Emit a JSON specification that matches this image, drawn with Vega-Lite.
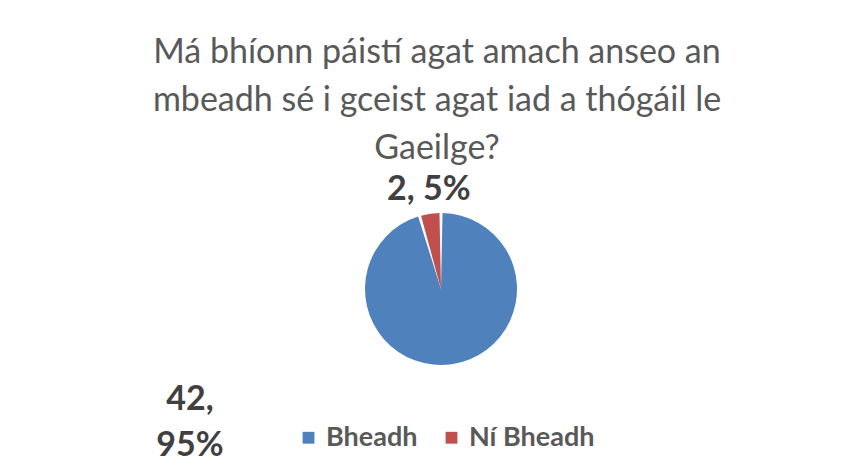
{
  "$schema": "https://vega.github.io/schema/vega-lite/v6.json",
  "autosize": {"type": "none"},
  "width": 846,
  "height": 228,
  "padding": {"left": 18, "top": 175, "right": 0, "bottom": 72},
  "background": "white",
  "config": {"view": {"stroke": null}},
  "title": {
    "text": ["Má bhíonn páistí agat amach anseo an", "mbeadh sé i gceist agat iad a thógáil le", "Gaeilge?"],
    "font": "Lato",
    "fontSize": 34,
    "fontWeight": "normal",
    "color": "#595959",
    "lineHeight": 48,
    "anchor": "middle",
    "dx": -4,
    "offset": -5
  },
  "data": {"values": [
    {"answer": "Bheadh", "count": 42},
    {"answer": "Ní Bheadh", "count": 2}
  ]},
  "transform": [
    {"joinaggregate": [{"op": "sum", "field": "count", "as": "total"}]},
    {"calculate": "datum.answer == 'Ní Bheadh' ? datum.count + ', ' + format(datum.count / datum.total, '.0%') : ''", "as": "labelSmall"},
    {"calculate": "datum.answer == 'Bheadh' ? datum.count + ',\\n' + format(datum.count / datum.total, '.0%') : ''", "as": "labelBig"}
  ],
  "encoding": {
    "theta": {"field": "count", "type": "quantitative", "stack": true},
    "order": {"field": "answer", "type": "nominal"}
  },
  "layer": [
    {
      "mark": {"type": "arc", "outerRadius": 76, "padAngle": 0.04},
      "encoding": {
        "color": {
          "field": "answer",
          "type": "nominal",
          "scale": {"domain": ["Bheadh", "Ní Bheadh"], "range": ["#4F81BD", "#C0504D"]},
          "legend": {
            "title": null,
            "orient": "none",
            "legendX": 277,
            "legendY": 249,
            "padding": 0,
            "direction": "horizontal",
            "symbolType": "square",
            "symbolSize": 140,
            "symbolStrokeWidth": 0,
            "labelFont": "Lato",
            "labelFontSize": 27,
            "labelFontWeight": "bold",
            "labelColor": "#595959",
            "labelOffset": 4,
            "columnPadding": 20
          }
        }
      }
    },
    {
      "mark": {"type": "text", "radius": 100, "dx": 2, "font": "Lato", "fontSize": 34, "fontWeight": "bold", "color": "#404040", "baseline": "middle", "align": "center"},
      "encoding": {"text": {"field": "labelSmall", "type": "nominal"}, "detail": {"field": "answer", "type": "nominal"}}
    },
    {
      "mark": {"type": "text", "radius": 112, "dx": -267, "font": "Lato", "fontSize": 34, "fontWeight": "bold", "color": "#404040", "baseline": "middle", "align": "center", "lineBreak": "\n", "lineHeight": 46},
      "encoding": {"text": {"field": "labelBig", "type": "nominal"}, "detail": {"field": "answer", "type": "nominal"}}
    }
  ]
}
